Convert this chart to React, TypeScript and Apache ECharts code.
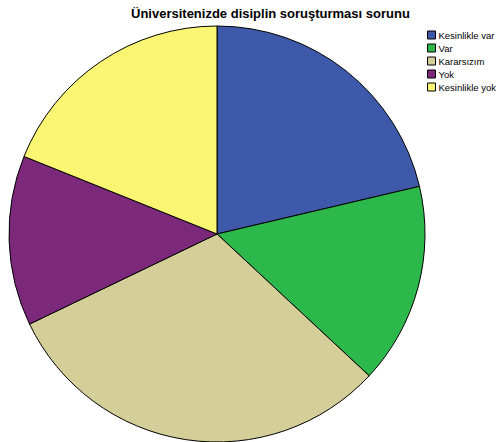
import React, { useEffect, useRef } from "react";
import * as echarts from "echarts";

const categories = ["Kesinlikle var", "Var", "Kararsızım", "Yok", "Kesinlikle yok"];
const values = [21.3, 15.6, 30.9, 13.2, 18.9];
const colors = ["#3e59aa", "#2db84b", "#d4cf98", "#7c297c", "#faf573"];
const titleText = "Üniversitenizde disiplin soruşturması sorunu";

export default function App() {
  const ref = useRef<HTMLDivElement>(null);
  useEffect(() => {
    document.body.style.margin = "0";
    const chart = echarts.init(ref.current!, null, { renderer: "svg" });
    chart.setOption({
      animation: false,
      backgroundColor: "#ffffff",
      title: {
        text: titleText,
        left: 131,
        top: 7,
        padding: 0,
        textStyle: { fontFamily: "Liberation Sans, Arial", fontSize: 13, fontWeight: "bold", color: "#000" },
      },
      legend: {
        orient: "vertical",
        left: 427,
        top: 30,
        padding: 0,
        itemWidth: 8,
        itemHeight: 8,
        itemGap: 3,
        icon: "rect",
        data: categories.map((c) => ({ name: c, textStyle: { color: "#000" } })),
        textStyle: { fontFamily: "Liberation Sans, Arial", fontSize: 9.5, color: "#000", padding: [0, 0, 0, -2] },
        itemStyle: { borderColor: "#000", borderWidth: 1 },
      },
      series: [
        {
          type: "pie",
          center: [217, 234],
          radius: 208,
          startAngle: 90,
          clockwise: true,
          label: { show: false },
          labelLine: { show: false },
          emphasis: { disabled: true },
          itemStyle: { borderColor: "#000", borderWidth: 1 },
          data: categories.map((c, i) => ({ name: c, value: values[i], itemStyle: { color: colors[i] } })),
        },
      ],
    });
    return () => chart.dispose();
  }, []);
  return <div ref={ref} style={{ width: 496, height: 442 }} />;
}
